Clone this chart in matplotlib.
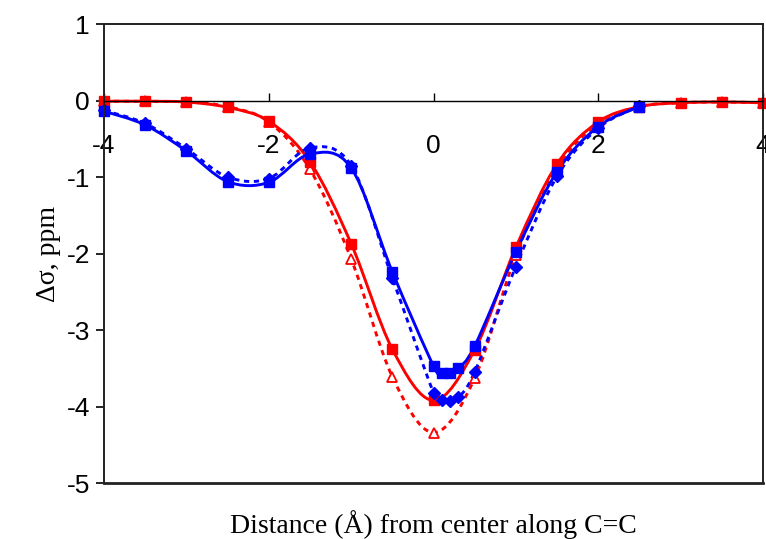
import numpy as np
import matplotlib
matplotlib.use('Agg')
import matplotlib.pyplot as plt
from matplotlib.path import Path
from matplotlib.patches import PathPatch

plt.rcParams['axes.unicode_minus'] = False

# Distance along C=C (Angstrom)
x_red = [-4, -3.5, -3, -2.5, -2, -1.5, -1, -0.5, 0, 0.5, 1, 1.5, 2, 2.5, 3, 3.5, 4]
x_blue = [-4, -3.5, -3, -2.5, -2, -1.5, -1, -0.5, 0, 0.1, 0.2, 0.3, 0.5, 1, 1.5, 2, 2.5]

# Shielding change (ppm)
red_solid = [-0.01, -0.01, -0.02, -0.09, -0.27, -0.80, -1.87, -3.25, -3.92, -3.26,
             -1.92, -0.83, -0.28, -0.08, -0.03, -0.02, -0.03]
red_dotted = [-0.01, -0.01, -0.02, -0.08, -0.28, -0.90, -2.07, -3.61, -4.34, -3.63,
              -2.02, -0.88, -0.30, -0.08, -0.03, -0.02, -0.03]
blue_solid = [-0.14, -0.32, -0.66, -1.06, -1.07, -0.70, -0.88, -2.24, -3.47, -3.56,
              -3.56, -3.50, -3.21, -1.98, -0.93, -0.34, -0.08]
blue_dotted = [-0.13, -0.30, -0.63, -1.00, -1.02, -0.62, -0.85, -2.32, -3.82, -3.92,
               -3.93, -3.88, -3.55, -2.17, -0.99, -0.36, -0.07]

xticks = [-4, -2, 0, 2, 4]
yticks = [-5, -4, -3, -2, -1, 0, 1]


def smooth_path(xs, ys):
    # Excel-like smoothed line: Catmull-Rom segments as cubic Beziers
    pts = np.column_stack([xs, ys]).astype(float)
    n = len(pts)
    verts = [pts[0]]
    codes = [Path.MOVETO]
    for i in range(n - 1):
        p0 = pts[max(i - 1, 0)]
        p1 = pts[i]
        p2 = pts[i + 1]
        p3 = pts[min(i + 2, n - 1)]
        verts += [p1 + (p2 - p0) / 6, p2 - (p3 - p1) / 6, p2]
        codes += [Path.CURVE4] * 3
    return Path(verts, codes)


fig = plt.figure(figsize=(7.66, 5.39), dpi=100)
ax = fig.add_axes([104 / 766, 1 - 483 / 539, (763 - 104) / 766, (483 - 24) / 539])

dots = (0, (1.8, 1.6))
series = [
    (x_red, red_dotted, '#ff0000', dots, dict(marker='^', ms=7, mfc='white', mec='#ff0000', mew=1.3)),
    (x_red, red_solid, '#ff0000', '-', dict(marker='s', ms=7, mfc='#ff0000', mec='#ff0000')),
    (x_blue, blue_dotted, '#0000ff', dots, dict(marker='D', ms=6, mfc='#0000ff', mec='#0000ff')),
    (x_blue, blue_solid, '#0000ff', '-', dict(marker='s', ms=7, mfc='#0000ff', mec='#0000ff')),
]
for xs, ys, col, ls, mk in series:
    ax.add_patch(PathPatch(smooth_path(xs, ys), fill=False, edgecolor=col,
                           lw=2.1, linestyle=ls, capstyle='butt', clip_on=False))
    ax.plot(xs, ys, linestyle='none', clip_on=False, **mk)

ax.set_xlim(-4, 4)
ax.set_ylim(-5, 1)
ax.set_xticks(xticks)
ax.set_yticks(yticks)

# x axis crosses at zero, box frame around the plot
ax.spines['bottom'].set_position(('data', 0))
ax.spines['bottom'].set_linewidth(1.0)
for s in ['top', 'right', 'left']:
    ax.spines[s].set_linewidth(1.4)
    ax.spines[s].set_color('#222222')
ax.axhline(-5, color='#222222', lw=2.0, clip_on=False)

ax.tick_params(axis='x', direction='in', length=6, width=1, pad=24,
               labelsize=19, labelfontfamily='Liberation Sans')
ax.tick_params(axis='y', direction='out', length=6, width=1.2, pad=4,
               labelsize=19, labelfontfamily='Liberation Sans')

ax.set_xlabel('Distance (Å) from center along C=C', fontsize=20, family='Liberation Serif')
ax.xaxis.set_label_coords(0.5, -0.06)
ax.set_ylabel('Δσ, ppm', fontsize=20, family='Liberation Serif')
ax.yaxis.set_label_coords(-0.065, 0.5)

fig.savefig('out.png', dpi=100)
